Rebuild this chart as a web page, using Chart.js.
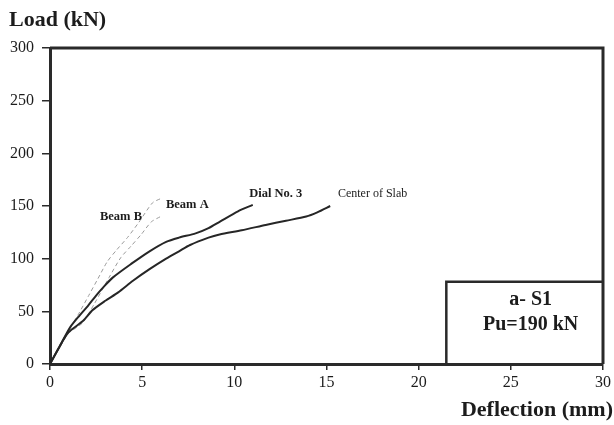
<!DOCTYPE html>
<html>
<head>
<meta charset="utf-8">
<script src="https://cdn.jsdelivr.net/npm/chart.js@4/dist/chart.umd.min.js"></script>
<style>
  html, body { margin: 0; padding: 0; background: #ffffff; }
  #wrap { width: 614px; height: 425px; }
</style>
</head>
<body>
<div id="wrap"><canvas id="c" width="614" height="425"></canvas></div>
<script>
// Load–deflection readings for slab S1 (deflection in mm, load in kN)
const slabCenterDefl = [0, 0.5, 1.0, 1.8, 2.3, 3.0, 3.7, 4.5, 5.4, 6.3, 7.0, 7.6, 8.6, 9.2, 10.4, 11.7, 12.8, 13.9, 14.5, 15.2];
const slabCenterLoad = [0, 16, 30, 41, 51, 60, 68, 79, 90, 100, 107, 113, 120, 123, 127, 132, 136, 140, 144, 150];

const dial3Defl = [0, 0.5, 1.1, 1.6, 2.05, 2.5, 2.9, 3.4, 4.4, 5.4, 6.3, 7.0, 7.9, 8.6, 9.2, 10.2, 11.0];
const dial3Load = [0, 16, 35, 46, 55, 65, 73, 82, 95, 107, 116, 120, 124, 129, 135, 145, 151];

const beamADefl = [0, 0.5, 1.0, 1.5, 2.1, 2.6, 3.1, 3.6, 4.2, 4.8, 5.56, 6.0];
const beamALoad = [0, 16, 32, 46, 65, 81, 97, 108, 120, 134, 153, 157];

const beamBDefl = [0, 0.5, 1.0, 1.76, 2.4, 3.2, 3.84, 4.4, 4.95, 5.5, 6.0];
const beamBLoad = [0, 15, 29, 39, 57, 82, 101, 112, 123, 135, 140];

const xTicks = [0, 5, 10, 15, 20, 25, 30];
const yTicks = [0, 50, 100, 150, 200, 250, 300];

// Curve captions placed in data coordinates [text, deflection, load, bold]
const curveLabels = [
  ['Beam B', 3.85, 140, true],
  ['Beam A', 7.45, 151, true],
  ['Dial No. 3', 12.25, 162, true],
  ['Center of Slab', 17.5, 162, false]
];
const specimenLines = ['a- S1', 'Pu=190 kN'];
const boxRange = { x0: 21.5, y1: 78 };

const SERIF = "'Liberation Serif', 'Times New Roman', serif";
const INK = '#1c1c1c';

function pts(xs, ys) { return xs.map((x, i) => ({ x: x, y: ys[i] })); }

const frame = {
  id: 'frame',
  afterDraw(chart) {
    const { ctx, chartArea: a, scales } = chart;
    const sx = scales.x, sy = scales.y;
    ctx.save();
    ctx.strokeStyle = '#2a2a2a';
    ctx.lineWidth = 3;
    ctx.beginPath();
    ctx.moveTo(a.left, a.top);
    ctx.lineTo(a.right, a.top);
    ctx.lineTo(a.right, a.bottom);
    ctx.stroke();

    // specimen box
    const bx = sx.getPixelForValue(boxRange.x0);
    const by = sy.getPixelForValue(boxRange.y1);
    ctx.lineWidth = 2.5;
    ctx.beginPath();
    ctx.moveTo(bx, a.bottom);
    ctx.lineTo(bx, by);
    ctx.lineTo(a.right, by);
    ctx.stroke();

    ctx.fillStyle = INK;
    ctx.textAlign = 'center';
    ctx.textBaseline = 'middle';
    ctx.font = 'bold 20px ' + SERIF;
    const cx = (bx + a.right) / 2 + 6;
    ctx.fillText(specimenLines[0], cx, by + 18);
    ctx.fillText(specimenLines[1], cx, by + 43);

    // curve captions
    curveLabels.forEach(([t, x, y, b]) => {
      ctx.font = (b ? 'bold 12.5px ' : '12px ') + SERIF;
      ctx.fillText(t, sx.getPixelForValue(x), sy.getPixelForValue(y));
    });

    // axis titles
    ctx.font = 'bold 22px ' + SERIF;
    ctx.textAlign = 'left';
    ctx.fillText('Load (kN)', 9, 20);
    ctx.textAlign = 'right';
    ctx.fillText('Deflection (mm)', 613, 410);
    ctx.restore();
  }
};

const solid = { borderColor: '#262626', borderWidth: 2, pointRadius: 0, showLine: true, tension: 0.25, fill: false };
const dashed = { borderColor: '#9a9a9a', borderWidth: 1, borderDash: [4, 3], pointRadius: 0, showLine: true, tension: 0.25, fill: false };

new Chart(document.getElementById('c'), {
  type: 'scatter',
  data: {
    datasets: [
      Object.assign({ label: 'Center of Slab', data: pts(slabCenterDefl, slabCenterLoad) }, solid),
      Object.assign({ label: 'Dial No. 3', data: pts(dial3Defl, dial3Load) }, solid),
      Object.assign({ label: 'Beam A', data: pts(beamADefl, beamALoad) }, dashed),
      Object.assign({ label: 'Beam B', data: pts(beamBDefl, beamBLoad) }, dashed)
    ]
  },
  options: {
    responsive: false,
    animation: false,
    layout: { padding: { top: 48, right: 11, left: 0, bottom: 0 } },
    plugins: { legend: { display: false }, tooltip: { enabled: false } },
    scales: {
      x: {
        type: 'linear', min: 0, max: 30,
        afterBuildTicks: s => { s.ticks = xTicks.map(v => ({ value: v })); },
        afterFit: s => { s.height = 61; },
        ticks: { font: { family: SERIF, size: 16 }, color: INK, padding: 3, maxRotation: 0 },
        grid: { drawOnChartArea: false, drawTicks: true, tickLength: 6, color: '#2a2a2a', lineWidth: 1.5 },
        border: { display: true, color: '#2a2a2a', width: 3 }
      },
      y: {
        type: 'linear', min: 0, max: 300,
        afterBuildTicks: s => { s.ticks = yTicks.map(v => ({ value: v })); },
        afterFit: s => { s.width = 50; },
        ticks: { font: { family: SERIF, size: 16 }, color: INK, padding: 8 },
        grid: { drawOnChartArea: false, drawTicks: true, tickLength: 8, color: '#2a2a2a', lineWidth: 1.5 },
        border: { display: true, color: '#2a2a2a', width: 3 }
      }
    }
  },
  plugins: [frame]
});
</script>
</body>
</html>
